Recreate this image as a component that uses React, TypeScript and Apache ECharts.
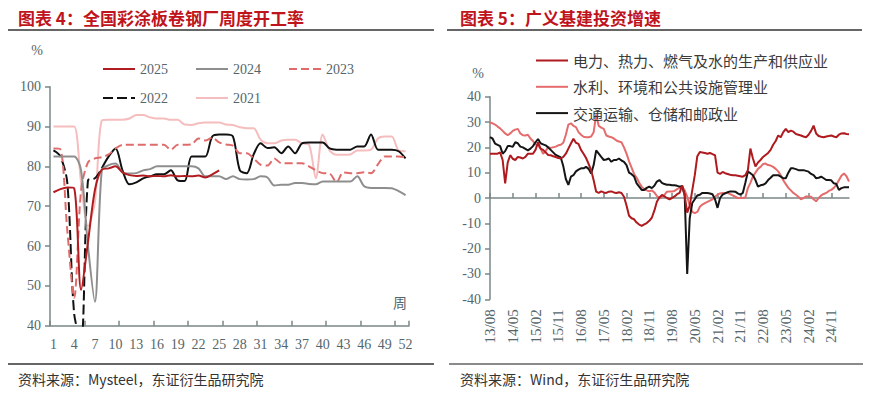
import React, { useEffect, useRef } from 'react';
import * as echarts from 'echarts';

// ---------- Left panel: weekly operating rate (%) ----------
const WEEK_LABELS = Array.from({ length: 52 }, (_, i) => String(i + 1));

const Y2025 = [73.5, 74.3, 74.7, 74.5, 49, 61, 74, 79.2, 79.5, 80, 78.5, 77.8, 77.6, 77.7, 77.5, 77.6, 77.5, 77.8, 77.5, 77.6, 77.5, 77.7, 77.2, 78.0, 79.0];
const Y2024 = [82.5, 82.5, 82.5, 82.5, 79, 60, 46, 79, 80.3, 80.7, 78.5, 78.2, 78.3, 79, 79.3, 80, 80, 80, 80, 80, 80, 79.5, 77.5, 77.5, 77.5, 76.8, 77.5, 76.8, 76.7, 76.8, 77.5, 77.2, 75.2, 75.4, 75.4, 75.8, 75.8, 75.6, 75.5, 76.2, 76.2, 76.2, 76.2, 76.2, 77.5, 75, 74.6, 74.6, 74.6, 74.5, 73.8, 72.8];
const Y2023 = [84.5, 84.3, 64, 47, 74, 81, 82, 82.3, 83, 84.5, 85.4, 85.4, 85.4, 85.4, 85.4, 85.4, 85.4, 84.2, 85.4, 85.4, 85.5, 87, 86.5, 87.2, 86, 85.5, 85.2, 83.3, 83.3, 82, 80.4, 80.2, 82, 80.8, 80.8, 80.8, 80.8, 80, 79, 78.3, 78.2, 76, 78.5, 78.3, 78.3, 78.5, 78.3, 80.5, 82.5, 82.5, 82.5, 82.3];
const Y2022 = [84, 82.5, 76, 43, 36, 76.5, 77, 79.5, 82.5, 84.5, 79, 75.5, 76, 77, 77.5, 78, 78, 79, 76.5, 76.3, 82.5, 82.5, 82.5, 87.5, 88, 88, 87.5, 79, 78.3, 83, 85.8, 84.6, 84.8, 83.3, 85, 83.3, 85.8, 86, 86, 86, 84.5, 84.2, 84.2, 84.2, 85, 85, 88, 84.2, 84.2, 84.2, 83.8, 82];
const Y2021 = [90, 90, 90, 90, 76, 65, 71, 91.5, 91.7, 91.7, 91.7, 92, 92.9, 92.9, 92.3, 92, 92, 91.7, 91.7, 90.5, 90.4, 90.8, 91, 91, 91, 90.5, 90.4, 89.8, 89.6, 89.6, 86.7, 85.8, 85.8, 86.5, 86.7, 86.7, 85.8, 85.5, 77, 88, 84, 82.9, 82.9, 83, 84, 84, 84.2, 87, 87.5, 87.5, 84, 83.8];
const LEFT_Y_TICKS = { min: 40, max: 100, interval: 10 };

// ---------- Right panel: broad infrastructure investment growth (%) ----------
const MONTH_START_YEAR = 2013;
const MONTH_START_MONTH = 8;
const MONTH_COUNT = 143;
const MONTHS = Array.from({ length: MONTH_COUNT }, (_, k) => {
  const t = MONTH_START_MONTH - 1 + k;
  const y = MONTH_START_YEAR + Math.floor(t / 12);
  const m = (t % 12) + 1;
  return `${String(y % 100).padStart(2, '0')}/${String(m).padStart(2, '0')}`;
});

const POWER = [
  17.5, 17.5, 17.5, 17.5, 18, 15, 5.8, 14, 16.9, 15.5,
  15, 16.2, 16, 15.6, 16.2, 17.5, 17.5, 17.5, 19, 22,
  19.5, 19, 18, 17, 16.9, 16.5, 16.2, 15.8, 15.6, 16.2,
  17.5, 19.5, 21.5, 23.4, 21.8, 21.4, 19, 17.5, 15.8, 13.5,
  11, 7, 2.5, 2, 2.6, 2.2, 2, 2.5, 2.6, 2.2,
  2, 2.3, 2, 0.5, -3, -7, -8, -8.4, -9.7, -10.5,
  -11, -10.4, -9.9, -9, -7.8, -5, -1.5, 0.2, 1.2, 0.6,
  0, -0.5, 0, 0.6, 1.5, 2, 5, 1, -5.8, -3,
  3, 9, 16.5, 18.2, 18, 17.8, 17.5, 17.8, 17.3, 16.9,
  10, 9.5, 10.3, 9.8, 9.5, 9.2, 9, 9, 8.8, 8.6,
  8.4, 9, 11, 19.5, 15.6, 12.5, 14, 15, 16.2, 17,
  17.8, 19, 21, 22.5, 24.7, 24, 26, 27.3, 26, 26.6,
  26.2, 25.3, 25, 24.7, 24.3, 24, 25, 26.5, 28.6, 25.5,
  24.5, 24.2, 24, 24.3, 24.5, 24.7, 24.3, 24, 25, 25.5,
  25.6, 25.3, 25.2,
];
const WATER = [
  29.8, 29.5, 29, 28.2, 27.5, 26.5, 25.5, 24.8, 25.5, 26.5,
  27, 27.3, 25.5, 24.8, 24.7, 25, 23.5, 22.5, 21.2, 20.8,
  19.5, 17.5, 18.5, 20, 19.8, 20, 20.3, 20.8, 21, 21.8,
  25, 29, 29.5, 28.5, 28, 26, 25, 24.2, 24, 24,
  24.3, 26, 33, 28.5, 27.8, 27.3, 24.7, 24.3, 24, 23.5,
  22.7, 22.3, 22, 20, 17.5, 14.5, 12, 9.5, 8, 6,
  4.5, 3.5, 3, 2.6, 3, 2.2, 0.8, 0, 0.5, 1.2,
  2.5, 2.6, 2.6, 2.8, 3.5, 4, 4.5, 3, 0.5, -3,
  -5.5, -6, -5.5, -3.5, -2.6, -2, -1.5, -1, -0.5, 0.5,
  1.3, 1.8, 2, 2, 2, 1.5, 1, 0.5, 0, 0,
  0, 0.2, 3.9, 6, 8.5, 10, 11.5, 12.3, 13.4, 13.6,
  13, 12.8, 12.3, 11.5, 10.5, 9, 7, 5.5, 4, 3,
  2, 1.3, 0.5, -0.5, 0, 0.6, 0.6, 0.5, -0.5, -1.3,
  0, 1, 1.6, 2, 2.8, 3.2, 4, 5.2, 7, 8.8,
  9.7, 8.6, 6.5,
];
const TRANSPORT = [
  24, 23.5, 21.5, 21, 20.5, 17.5, 18.5, 20.5, 20.5, 20.2,
  22, 21.6, 20.3, 20, 19.4, 18.8, 19.5, 20.5, 22, 23.3,
  21.6, 21.2, 20.8, 20, 19, 18, 17, 16.5, 16, 12.5,
  7.5, 5.2, 8.4, 9, 10.5, 11.2, 11.7, 11.7, 12.3, 11.5,
  9.7, 13, 18.8, 17.5, 16.2, 15, 15.2, 15.6, 14.3, 15,
  15, 15.6, 14.8, 14.3, 13, 10, 9.4, 8.5, 5.8, 4.5,
  3.2, 3.2, 4, 4.5, 3.9, 4.8, 6.5, 7.1, 6, 5.5,
  5.2, 5.2, 5, 5, 4.8, 4.5, 4.5, 1.3, -30, -8,
  -2, -0.5, 1, 1.3, 2, 2, 2, 1.8, 1.5, -0.5,
  -3.9, 0, 1.3, 1.8, 2.3, 2.6, 2.6, 2.5, 1.8, 1.3,
  2, 6, 10.4, 9.8, 9, 7.1, 4.5, 5, 5.2, 5.8,
  7.1, 8, 9, 9, 9, 8.4, 7.8, 7.8, 10, 11.7,
  11.7, 11.4, 11, 11, 11, 10.7, 10.4, 9.5, 9, 7.8,
  8, 8.4, 7.8, 7.1, 7.1, 7, 5.8, 5.5, 3.2, 3.9,
  4.2, 4.2, 4.2,
];
const RIGHT_Y_TICKS = { min: -40, max: 40, interval: 10 };

const NAME_POWER = '电力、热力、燃气及水的生产和供应业';
const NAME_WATER = '水利、环境和公共设施管理业';
const NAME_TRANSPORT = '交通运输、仓储和邮政业';

const NUM_FONT = 'Liberation Serif';
const CJK_FONT = 'Noto Sans CJK SC';
const AXIS_COLOR = '#7A8787';
const LABEL_COLOR = '#55666A';
const TITLE_COLOR = '#C0141C';

const C2025 = '#B01C1F';
const C2024 = '#8E8E8E';
const C2023 = '#E06B6B';
const C2022 = '#111111';
const C2021 = '#F5BDBD';

export default function App() {
  const ref = useRef<HTMLDivElement>(null);

  useEffect(() => {
    if (!ref.current) return;
    const chart = echarts.init(ref.current, null, { renderer: 'svg' });

    const y2022Dashed = Y2022.map((v, i) => (i <= 7 ? v : null));
    const y2022Solid = Y2022.map((v, i) => (i >= 7 ? v : null));

    const leftLine = (name: string, data: (number | null)[], color: string, type: any, width = 2) => ({
      type: 'line',
      name,
      xAxisIndex: 0,
      yAxisIndex: 0,
      data,
      symbol: 'none',
      smooth: 0.3,
      connectNulls: false,
      lineStyle: { color, width, type },
      itemStyle: { color },
      z: 2,
    });

    const rightLine = (name: string, data: number[], color: string) => ({
      type: 'line',
      name,
      xAxisIndex: 1,
      yAxisIndex: 1,
      data,
      symbol: 'none',
      lineStyle: { color, width: 2 },
      itemStyle: { color },
    });

    const legendCommon = {
      itemWidth: 32,
      itemHeight: 14,
      selectedMode: false,
      itemStyle: { opacity: 0, borderWidth: 0 },
    };

    const option: any = {
      animation: false,
      backgroundColor: '#ffffff',
      grid: [
        { left: 50, top: 86.7, width: 359, height: 239, outerBoundsMode: 'none', containLabel: false },
        { left: 490, top: 96.7, width: 359, height: 202.6, outerBoundsMode: 'none', containLabel: false },
      ],
      legend: [
        {
          ...legendCommon,
          data: ['2025', '2024', '2023'],
          left: 97,
          top: 57,
          orient: 'horizontal',
          itemGap: 27,
          textStyle: { fontFamily: NUM_FONT, fontSize: 14, color: LABEL_COLOR },
        },
        {
          ...legendCommon,
          data: ['2022', '2021'],
          left: 97,
          top: 86,
          orient: 'horizontal',
          itemGap: 27,
          textStyle: { fontFamily: NUM_FONT, fontSize: 14, color: LABEL_COLOR },
        },
        {
          ...legendCommon,
          data: [NAME_POWER, NAME_WATER, NAME_TRANSPORT],
          left: 530,
          top: 48,
          orient: 'vertical',
          itemGap: 11.3,
          textStyle: { fontFamily: CJK_FONT, fontSize: 15, color: '#3A3A3A', lineHeight: 14 },
        },
      ],
      xAxis: [
        {
          type: 'category',
          gridIndex: 0,
          data: WEEK_LABELS,
          boundaryGap: true,
          axisLine: { show: true, onZero: false, lineStyle: { color: AXIS_COLOR, width: 1.5 } },
          axisTick: { show: true, inside: true, length: 5, interval: 4, lineStyle: { color: AXIS_COLOR, width: 1.5 } },
          axisLabel: { interval: 2, margin: 12, fontFamily: NUM_FONT, fontSize: 14, color: LABEL_COLOR },
          splitLine: { show: false },
        },
        {
          type: 'category',
          gridIndex: 1,
          data: MONTHS,
          boundaryGap: false,
          position: 'bottom',
          axisLine: { show: true, onZero: true, onZeroAxisIndex: 1, lineStyle: { color: AXIS_COLOR, width: 1.5 } },
          axisTick: { show: true, inside: true, length: 5, interval: 8, lineStyle: { color: AXIS_COLOR, width: 1.5 } },
          axisLabel: { show: false },
          splitLine: { show: false },
        },
        {
          type: 'category',
          gridIndex: 1,
          data: MONTHS,
          boundaryGap: false,
          position: 'bottom',
          axisLine: { show: false, onZero: false },
          axisTick: { show: false },
          axisLabel: { show: true, interval: 8, rotate: 90, margin: 10, fontFamily: NUM_FONT, fontSize: 15, color: LABEL_COLOR },
          splitLine: { show: false },
        },
      ],
      yAxis: [
        {
          type: 'value',
          gridIndex: 0,
          ...LEFT_Y_TICKS,
          axisLine: { show: true, lineStyle: { color: AXIS_COLOR, width: 1.5 } },
          axisTick: { show: true, inside: false, length: 5, lineStyle: { color: AXIS_COLOR, width: 1.5 } },
          axisLabel: { margin: 9, fontFamily: NUM_FONT, fontSize: 14, color: LABEL_COLOR },
          splitLine: { show: false },
        },
        {
          type: 'value',
          gridIndex: 1,
          ...RIGHT_Y_TICKS,
          axisLine: { show: true, onZero: false, lineStyle: { color: AXIS_COLOR, width: 1.5 } },
          axisTick: { show: true, inside: false, length: 5, lineStyle: { color: AXIS_COLOR, width: 1.5 } },
          axisLabel: { margin: 9, fontFamily: NUM_FONT, fontSize: 14, color: LABEL_COLOR },
          splitLine: { show: false },
        },
      ],
      series: [
        leftLine('2021', Y2021, C2021, 'solid'),
        leftLine('2022', y2022Dashed, C2022, [10, 4]),
        leftLine('2022', y2022Solid, C2022, 'solid'),
        leftLine('2023', Y2023, C2023, [8, 4]),
        leftLine('2024', Y2024, C2024, 'solid'),
        leftLine('2025', Y2025, C2025, 'solid'),
        rightLine(NAME_WATER, WATER, '#E46C6C'),
        rightLine(NAME_TRANSPORT, TRANSPORT, '#151515'),
        rightLine(NAME_POWER, POWER, '#AE1A1E'),
      ],
      graphic: [
        { type: 'text', x: 18, y: 17, style: { text: '图表 4：全国彩涂板卷钢厂周度开工率', fontFamily: CJK_FONT, fontSize: 17, fontWeight: 'bold', fill: TITLE_COLOR, textVerticalAlign: 'middle' } },
        { type: 'text', x: 460, y: 17, style: { text: '图表 5：广义基建投资增速', fontFamily: CJK_FONT, fontSize: 17, fontWeight: 'bold', fill: TITLE_COLOR, textVerticalAlign: 'middle' } },
        { type: 'line', shape: { x1: 8, y1: 30, x2: 434, y2: 30 }, style: { stroke: '#333333', lineWidth: 1.5 } },
        { type: 'line', shape: { x1: 447, y1: 30, x2: 862, y2: 30 }, style: { stroke: '#333333', lineWidth: 1.5 } },
        { type: 'line', shape: { x1: 8, y1: 364, x2: 434, y2: 364 }, style: { stroke: '#333333', lineWidth: 1.5 } },
        { type: 'line', shape: { x1: 449, y1: 364, x2: 863, y2: 364 }, style: { stroke: '#8A8A8A', lineWidth: 2 } },
        { type: 'text', x: 18, y: 379, style: { text: '资料来源：Mysteel，东证衍生品研究院', fontFamily: CJK_FONT, fontSize: 14, fill: '#333333', textVerticalAlign: 'middle' } },
        { type: 'text', x: 460, y: 379, style: { text: '资料来源：Wind，东证衍生品研究院', fontFamily: CJK_FONT, fontSize: 14, fill: '#333333', textVerticalAlign: 'middle' } },
        { type: 'text', x: 37, y: 50, style: { text: '%', fontFamily: NUM_FONT, fontSize: 14, fill: LABEL_COLOR, textAlign: 'center', textVerticalAlign: 'middle' } },
        { type: 'text', x: 478, y: 73, style: { text: '%', fontFamily: NUM_FONT, fontSize: 14, fill: LABEL_COLOR, textAlign: 'center', textVerticalAlign: 'middle' } },
        { type: 'text', x: 400, y: 302, style: { text: '周', fontFamily: CJK_FONT, fontSize: 14, fill: LABEL_COLOR, textAlign: 'center', textVerticalAlign: 'middle' } },
      ],
    };

    chart.setOption(option);
    return () => chart.dispose();
  }, []);

  return (
    <div
      ref={ref}
      style={{ position: 'absolute', left: 0, top: 0, width: 871, height: 395, background: '#ffffff' }}
    />
  );
}
